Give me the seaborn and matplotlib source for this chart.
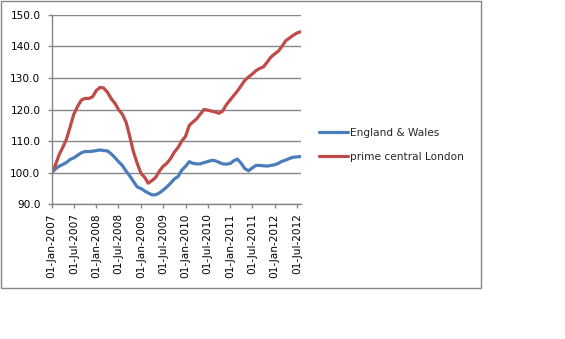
import numpy as np
import pandas as pd
import matplotlib
matplotlib.use("Agg")
import matplotlib.pyplot as plt
import matplotlib.dates as mdates
from matplotlib.patches import Rectangle
import seaborn as sns

# Monthly house price index, Jan 2007 = 100
months = pd.date_range("2007-01-01", "2012-08-01", freq="MS")

england_wales = [
    100.0, 101.2, 102.0, 102.6, 103.2, 104.2, 104.7, 105.5, 106.3, 106.7, 106.7, 106.8,
    107.0, 107.2, 107.0, 106.9, 106.0, 104.8, 103.5, 102.3, 100.5, 99.0, 97.2, 95.5,
    95.0, 94.2, 93.6, 93.0, 93.0, 93.6, 94.5, 95.5, 96.7, 98.0, 98.8, 100.8,
    102.0, 103.5, 103.0, 102.8, 102.8, 103.2, 103.5, 103.9, 103.8, 103.3, 102.8, 102.7,
    102.9, 103.8, 104.3, 103.0, 101.3, 100.6, 101.5, 102.3, 102.3, 102.2, 102.1, 102.3,
    102.5, 103.0, 103.6, 104.0, 104.5, 104.9, 105.0, 105.1,
]

prime_central_london = [
    100.0, 102.5, 105.5, 108.0, 110.5, 114.5, 118.5, 121.0, 123.0, 123.5, 123.5, 124.0,
    126.0, 127.0, 126.8, 125.5, 123.5, 122.0, 120.0, 118.5, 116.0, 111.5, 106.5, 103.0,
    99.8, 98.5, 96.7, 97.5, 98.5, 100.5, 102.0, 103.0, 104.5, 106.5, 108.0, 110.0,
    111.5, 115.0, 116.0, 117.0, 118.5, 120.0, 119.8, 119.5, 119.2, 118.8, 119.5, 121.5,
    123.0, 124.5, 125.8, 127.5, 129.2, 130.3, 131.2, 132.3, 133.0, 133.5, 135.0, 136.6,
    137.6, 138.5, 140.0, 141.8, 142.6, 143.5, 144.2, 144.6,
]

series_names = ["England & Wales", "prime central London"]
series_colors = ["#4A7EBB", "#BE4B48"]

y_ticks = [90, 100, 110, 120, 130, 140, 150]

df = pd.DataFrame({
    "date": np.concatenate([months, months]),
    "index": england_wales + prime_central_london,
    "series": [series_names[0]] * len(months) + [series_names[1]] * len(months),
})

sns.set_style("white")
plt.rcParams["font.family"] = ["DejaVu Sans"]

W, H = 565, 339
fig = plt.figure(figsize=(W / 100, H / 100), dpi=100)
ax_left, ax_right, ax_top, ax_bottom = 51.7, 300.7, 14.7, 204.3
ax = fig.add_axes([ax_left / W, 1 - ax_bottom / H, (ax_right - ax_left) / W, (ax_bottom - ax_top) / H])

grid_color = "#868686"

sns.lineplot(
    data=df, x="date", y="index", hue="series",
    palette=dict(zip(series_names, series_colors)),
    linewidth=2.3, ax=ax, legend=False,
)
for ln in ax.get_lines():
    ln.set_solid_capstyle("round")
    ln.set_solid_joinstyle("round")

ax.set_xlim(months[0], months[-1])
ax.set_ylim(y_ticks[0], y_ticks[-1])
ax.set_yticks(y_ticks)
ax.set_yticklabels([f"{v:.1f}" for v in y_ticks])
ax.yaxis.grid(True, color=grid_color, linewidth=1.0)
ax.set_axisbelow(True)

ax.xaxis.set_major_locator(mdates.MonthLocator(bymonth=[1, 7], bymonthday=1))
ax.xaxis.set_major_formatter(mdates.DateFormatter("%d-%b-%Y"))
for lbl in ax.get_xticklabels():
    lbl.set_rotation(90)

ax.set_xlabel("")
ax.set_ylabel("")
for side in ["top", "right"]:
    ax.spines[side].set_visible(False)
for side in ["left", "bottom"]:
    ax.spines[side].set_color(grid_color)
    ax.spines[side].set_linewidth(1.0)

ax.tick_params(axis="y", direction="out", length=3, width=1, color=grid_color,
               labelsize=7.6, labelcolor="#000000", pad=5.0, left=True)
ax.tick_params(axis="x", direction="out", length=3, width=1, color=grid_color,
               labelsize=7.6, labelcolor="#000000", pad=3.5, bottom=True)

handles = [plt.Line2D([], [], color=c, linewidth=2.3) for c in series_colors]
fig.legend(
    handles, series_names, loc="center left",
    bbox_to_anchor=(319 / W, 1 - 145 / H),
    frameon=False, fontsize=7.6, handlelength=2.7, handletextpad=0.2,
    labelspacing=1.3, borderpad=0, borderaxespad=0,
)

# outer chart-area frame
fig.patches.append(Rectangle((0.5 / W, 1 - 288 / H), 480 / W, 287.5 / H,
                             transform=fig.transFigure, fill=False,
                             edgecolor=grid_color, linewidth=1.0))

fig.savefig("out.png", dpi=100)
